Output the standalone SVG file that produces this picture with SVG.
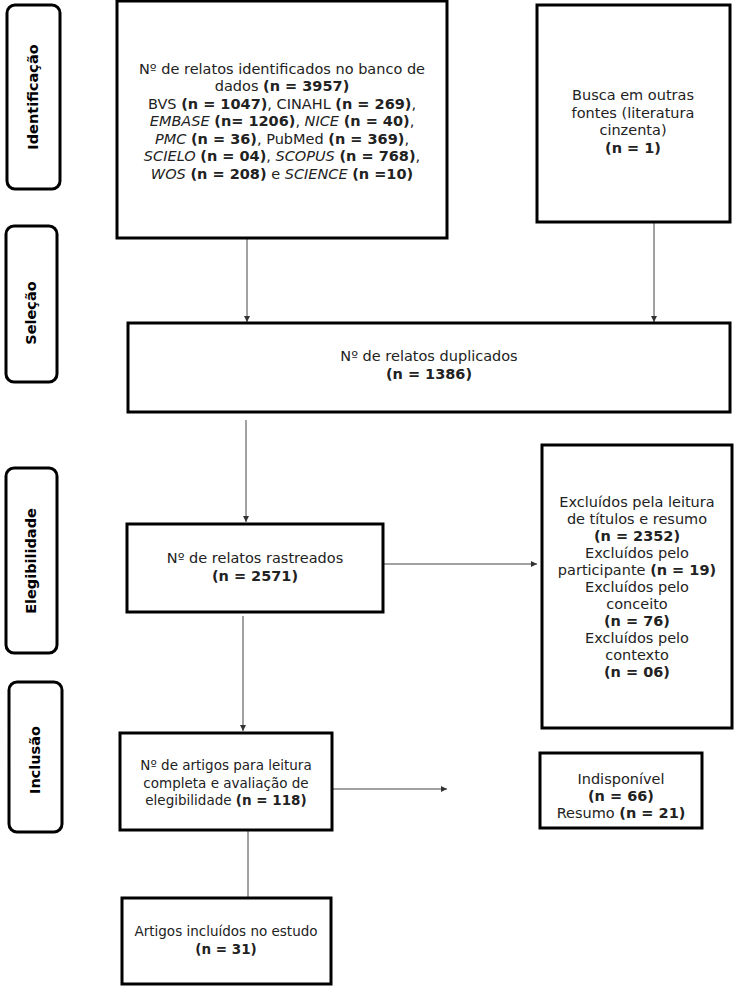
<svg xmlns="http://www.w3.org/2000/svg" width="736" height="989" viewBox="0 0 736 989">
<defs>
<marker id="ah" viewBox="0 0 6 6" refX="6" refY="3" markerWidth="6" markerHeight="6" orient="auto" markerUnits="userSpaceOnUse">
<path d="M0,0 L6,3 L0,6 z" fill="#333"/>
</marker>
<style>
.box{fill:#fff;stroke:#000;stroke-width:3}
.side{fill:#fff;stroke:#000;stroke-width:3}
.t{font-family:"DejaVu Sans",Verdana,sans-serif;font-size:14.5px;fill:#222;text-anchor:middle}
.s{font-size:13.5px}
.b{font-weight:bold}
.i{font-style:italic}
.lab{font-family:"DejaVu Sans",Verdana,sans-serif;font-size:14.5px;font-weight:bold;fill:#000;text-anchor:middle}
.c{stroke:#444;stroke-width:1;fill:none}
</style>
</defs>
<rect width="736" height="989" fill="#fff"/>

<g id="lab-identificacao">
<rect class="side" x="7" y="5" width="53" height="184" rx="8"/>
<text class="lab" transform="translate(38,97) rotate(-90)">Identificação</text>
</g>
<g id="lab-selecao">
<rect class="side" x="6" y="226" width="51" height="156" rx="8"/>
<text class="lab" transform="translate(36,313) rotate(-90)">Seleção</text>
</g>
<g id="lab-elegibilidade">
<rect class="side" x="6" y="468" width="51" height="185" rx="8"/>
<text class="lab" transform="translate(36,561) rotate(-90)">Elegibilidade</text>
</g>
<g id="lab-inclusao">
<rect class="side" x="9" y="682" width="53" height="150" rx="8"/>
<text class="lab" transform="translate(40,760) rotate(-90)">Inclusão</text>
</g>

<g id="connectors">
<line class="c" x1="247" y1="239" x2="247" y2="322" marker-end="url(#ah)"/>
<line class="c" x1="654" y1="223" x2="654" y2="322" marker-end="url(#ah)"/>
<line class="c" x1="246" y1="420" x2="246" y2="522" marker-end="url(#ah)"/>
<line class="c" x1="384" y1="564" x2="537" y2="564" marker-end="url(#ah)"/>
<line class="c" x1="243" y1="616" x2="243" y2="731" marker-end="url(#ah)"/>
<line class="c" x1="333" y1="789" x2="447" y2="789" marker-end="url(#ah)"/>
<line class="c" x1="248" y1="831" x2="248" y2="897"/>
</g>

<g id="n-banco">
<rect class="box" x="117" y="1" width="330" height="237"/>
<text class="t" x="282" y="73.5">Nº de relatos identificados no banco de</text>
<text class="t" x="282" y="91">dados <tspan class="b">(n = 3957)</tspan></text>
<text class="t" x="282" y="108.5">BVS <tspan class="b">(n = 1047)</tspan>, CINAHL <tspan class="b">(n = 269)</tspan>,</text>
<text class="t" x="282" y="126"><tspan class="i">EMBASE</tspan> <tspan class="b">(n= 1206)</tspan>, <tspan class="i">NICE</tspan> <tspan class="b">(n = 40)</tspan>,</text>
<text class="t" x="282" y="143.5"><tspan class="i">PMC</tspan> <tspan class="b">(n = 36)</tspan>, PubMed <tspan class="b">(n = 369)</tspan>,</text>
<text class="t" x="282" y="161"><tspan class="i">SCIELO</tspan> <tspan class="b">(n = 04)</tspan>, <tspan class="i">SCOPUS</tspan> <tspan class="b">(n = 768)</tspan>,</text>
<text class="t" x="282" y="178.5"><tspan class="i">WOS</tspan> <tspan class="b">(n = 208)</tspan> e <tspan class="i">SCIENCE</tspan> <tspan class="b">(n =10)</tspan></text>
</g>

<g id="n-busca">
<rect class="box" x="537" y="5" width="193" height="217"/>
<text class="t" x="633" y="100">Busca em outras</text>
<text class="t" x="633" y="117.5">fontes (literatura</text>
<text class="t" x="633" y="135">cinzenta)</text>
<text class="t b" x="633" y="152.5">(n = 1)</text>
</g>

<g id="n-duplicados">
<rect class="box" x="128" y="323" width="602" height="89"/>
<text class="t" x="429" y="361">Nº de relatos duplicados</text>
<text class="t b" x="429" y="379">(n = 1386)</text>
</g>

<g id="n-rastreados">
<rect class="box" x="127" y="524" width="256" height="88"/>
<text class="t" x="255" y="563">Nº de relatos rastreados</text>
<text class="t b" x="255" y="581">(n = 2571)</text>
</g>

<g id="n-excluidos">
<rect class="box" x="542" y="445" width="190" height="283"/>
<text class="t" x="637" y="507">Excluídos pela leitura</text>
<text class="t" x="637" y="524">de títulos e resumo</text>
<text class="t b" x="637" y="541">(n = 2352)</text>
<text class="t" x="637" y="558">Excluídos pelo</text>
<text class="t" x="637" y="575">participante <tspan class="b">(n = 19)</tspan></text>
<text class="t" x="637" y="592">Excluídos pelo</text>
<text class="t" x="637" y="609">conceito</text>
<text class="t b" x="637" y="626">(n = 76)</text>
<text class="t" x="637" y="643">Excluídos pelo</text>
<text class="t" x="637" y="660">contexto</text>
<text class="t b" x="637" y="677">(n = 06)</text>
</g>

<g id="n-leitura">
<rect class="box" x="120" y="733" width="212" height="97"/>
<text class="t s" x="226" y="770">Nº de artigos para leitura</text>
<text class="t s" x="226" y="787.5">completa e avaliação de</text>
<text class="t s" x="226" y="805">elegibilidade <tspan class="b">(n = 118)</tspan></text>
</g>

<g id="n-indisponivel">
<rect class="box" x="540" y="753" width="162" height="75"/>
<text class="t" x="621" y="784">Indisponível</text>
<text class="t b" x="621" y="801">(n = 66)</text>
<text class="t" x="621" y="818">Resumo <tspan class="b">(n = 21)</tspan></text>
</g>

<g id="n-incluidos">
<rect class="box" x="122" y="898" width="209" height="86"/>
<text class="t s" x="226" y="936">Artigos incluídos no estudo</text>
<text class="t s b" x="226" y="954">(n = 31)</text>
</g>
</svg>
